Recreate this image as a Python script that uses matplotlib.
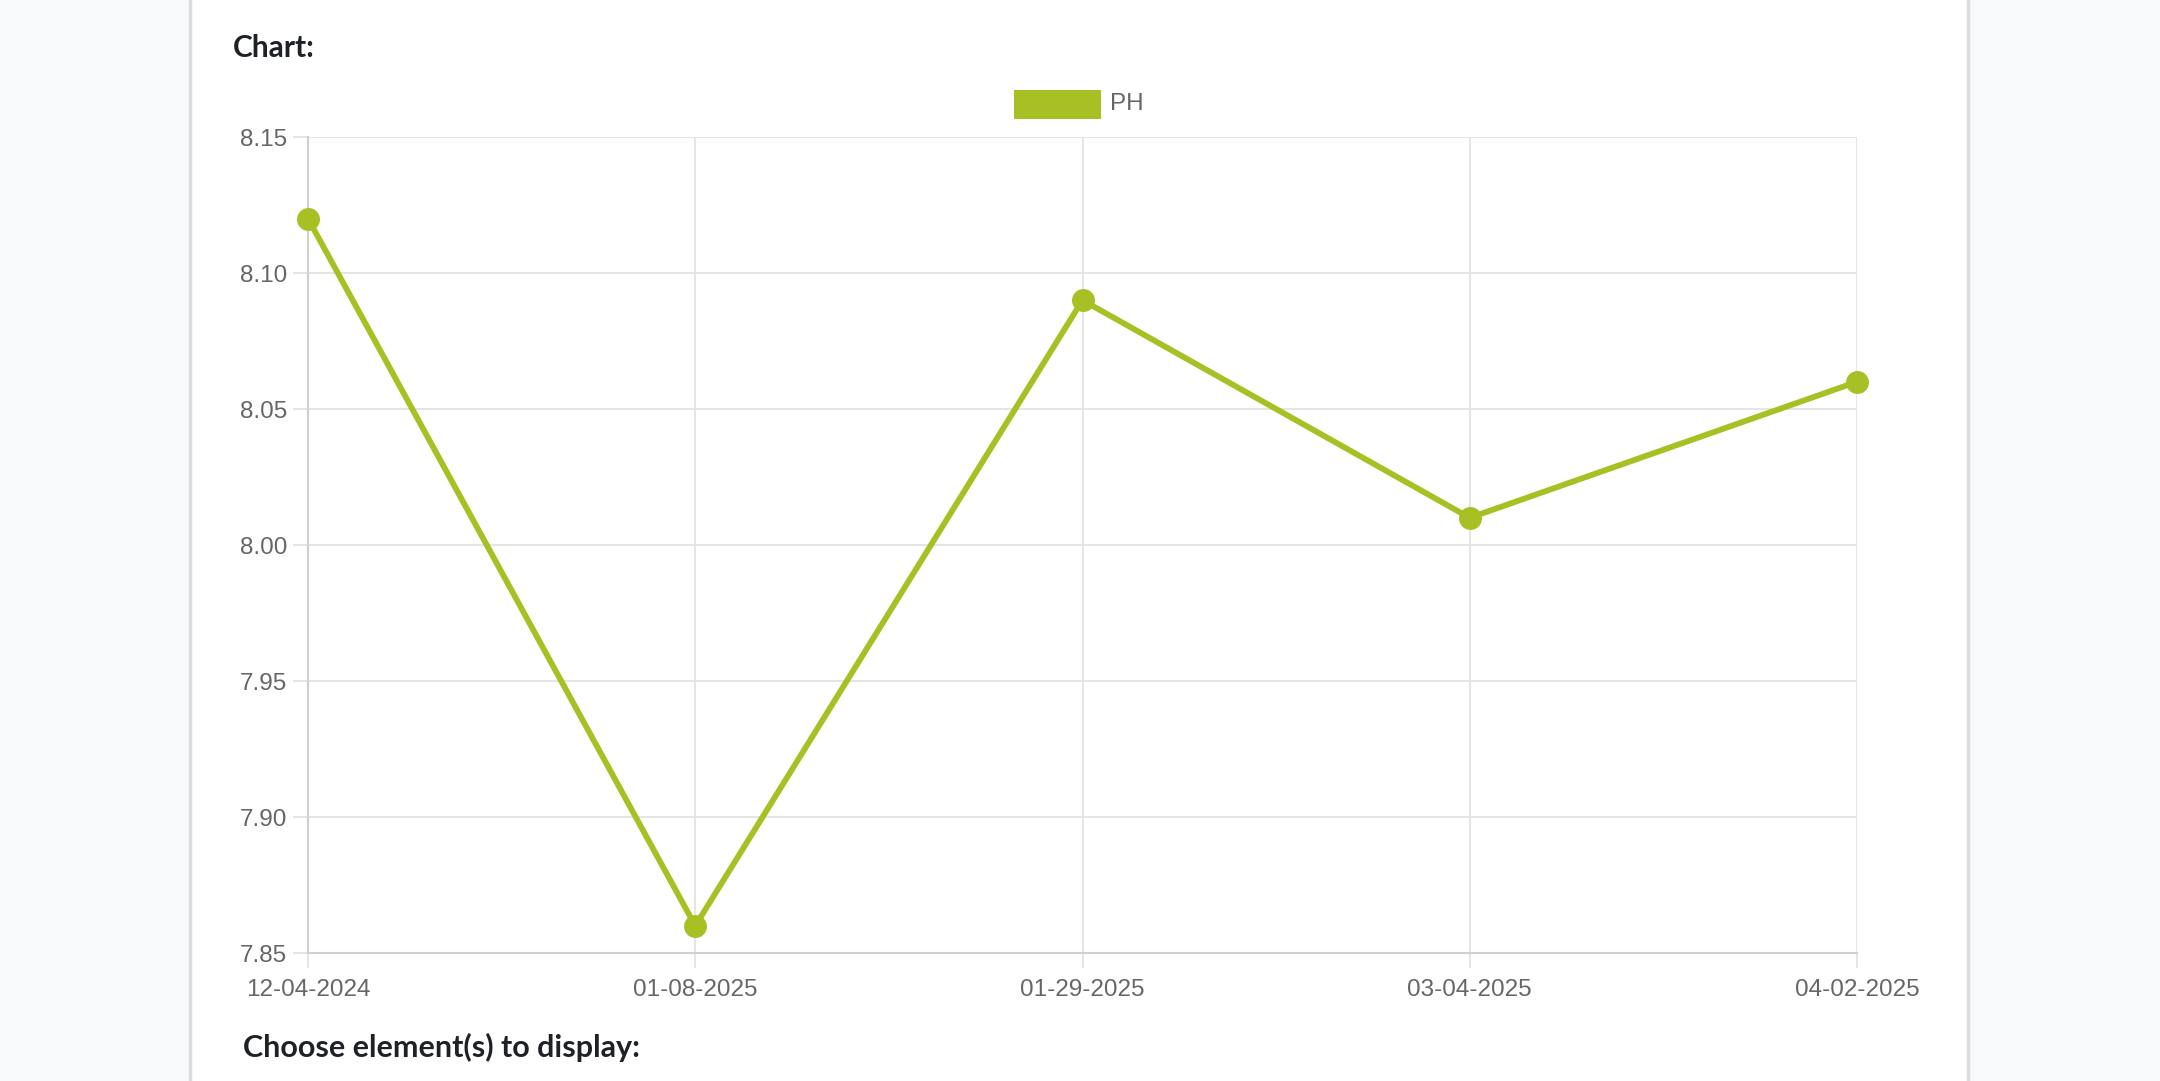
import matplotlib
matplotlib.use("Agg")
import matplotlib.pyplot as plt
from matplotlib.patches import Rectangle

dates = ["12-04-2024", "01-08-2025", "01-29-2025", "03-04-2025", "04-02-2025"]
ph_values = [8.12, 7.86, 8.09, 8.01, 8.06]
y_ticks = [7.85, 7.90, 7.95, 8.00, 8.05, 8.10, 8.15]
series_name = "PH"

W, H = 2160, 1081
fig = plt.figure(figsize=(W / 100, H / 100), dpi=100, facecolor="#f8f9fb")

# white panel (background axes)
bg = fig.add_axes([190 / W, 0, (1968 - 190) / W, 1], zorder=-10)
bg.set_facecolor("white")
bg.set_xticks([])
bg.set_yticks([])
for s in ["top", "bottom"]:
    bg.spines[s].set_visible(False)
for s in ["left", "right"]:
    bg.spines[s].set_color("#dcdcdc")
    bg.spines[s].set_linewidth(2.5)

left, right, top, bottom = 308, 1857, 137, 953
ax = fig.add_axes([left / W, 1 - bottom / H, (right - left) / W, (bottom - top) / H])
ax.set_facecolor("white")

green = "#a8c023"
x = list(range(len(dates)))
ax.plot(x, ph_values, color=green, lw=4.2, marker="o", markersize=15.5,
        markerfacecolor=green, markeredgecolor=green, label=series_name,
        zorder=3, clip_on=False)

ax.set_xlim(0, len(dates) - 1)
ax.set_ylim(7.85, 8.15)
ax.set_xticks(x)
ax.set_xticklabels(dates)
ax.set_yticks(y_ticks)
ax.set_yticklabels([f"{v:.2f}" for v in y_ticks])

grid_c = "#e3e3e3"
ax.grid(True, color=grid_c, lw=1.3)
ax.set_axisbelow(True)
for s in ["top", "right"]:
    ax.spines[s].set_visible(False)
for s in ["left", "bottom"]:
    ax.spines[s].set_color("#cfcfcf")
    ax.spines[s].set_linewidth(1.5)

ax.tick_params(axis="both", length=11, width=1.3, color=grid_c,
               labelcolor="#666666", labelsize=17.5)
ax.tick_params(axis="y", pad=4)
ax.tick_params(axis="x", pad=8)
for lab in ax.get_xticklabels() + ax.get_yticklabels():
    lab.set_fontfamily("Liberation Sans")

# legend
fig.add_artist(Rectangle((1014 / W, 1 - 119 / H), (1101 - 1014) / W, 29 / H,
                         transform=fig.transFigure, facecolor=green, edgecolor="none"))
fig.text(1110 / W, 1 - 104 / H, series_name, fontsize=17.5, color="#666666",
         family="Liberation Sans", va="center", ha="left")

fig.text(233 / W, 1 - 48 / H, "Chart:", fontsize=21.5, fontweight="bold",
         color="#1e2227", family="Lato", va="center", ha="left")
fig.text(243 / W, 1 - 1047 / H, "Choose element(s) to display:", fontsize=22,
         fontweight="bold", color="#1e2227", family="Lato", va="center", ha="left")

fig.savefig("out.png", dpi=100, facecolor=fig.get_facecolor())
